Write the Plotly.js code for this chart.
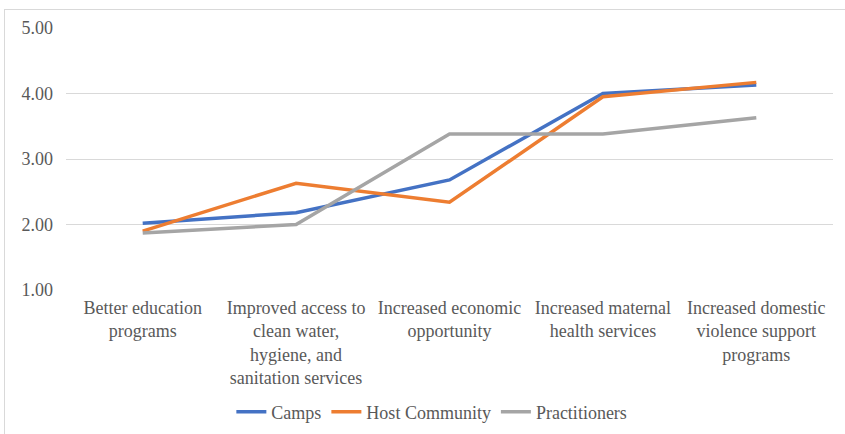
<!DOCTYPE html>
<html>
<head>
<meta charset="utf-8">
<script src="https://cdn.plot.ly/plotly-3.0.1.min.js"></script>
<style>
html,body{margin:0;padding:0;background:#fff;}
#wrap{position:relative;width:845px;height:434px;overflow:hidden;}
#chart{position:absolute;left:0;top:0;width:845px;height:434px;}
#frame{position:absolute;left:4px;top:9px;width:860px;height:460px;border:1px solid #d9d9d9;pointer-events:none;}
</style>
</head>
<body>
<div id="wrap"><div id="chart"></div><div id="frame"></div></div>
<script>
const categories = [
  "Better education<br>programs",
  "Improved access to<br>clean water,<br>hygiene, and<br>sanitation services",
  "Increased economic<br>opportunity",
  "Increased maternal<br>health services",
  "Increased domestic<br>violence support<br>programs"
];
const camps = [2.02, 2.18, 2.68, 4.00, 4.13];
const hostCommunity = [1.90, 2.63, 2.34, 3.95, 4.17];
const practitioners = [1.87, 2.00, 3.38, 3.38, 3.63];
const yTicks = [1, 2, 3, 4, 5];
const yTickLabels = ["1.00", "2.00", "3.00", "4.00", "5.00"];

const font = {family: "Liberation Serif, DejaVu Serif", size: 18, color: "#595959"};
function tr(name, y, color) {
  return {x: categories, y: y, name: name, type: "scatter", mode: "lines",
    line: {color: color, width: 3.5}};
}
const data = [
  tr("Camps", camps, "#4472C4"),
  tr("Host Community", hostCommunity, "#ED7D31"),
  tr("Practitioners", practitioners, "#A5A5A5")
];
const layout = {
  width: 845, height: 434,
  margin: {l: 66, r: 12, t: 28, b: 144, autoexpand: false},
  paper_bgcolor: "#fff", plot_bgcolor: "#fff",
  font: font,
  showlegend: true,
  legend: {orientation: "h", x: 0.477, xanchor: "center", y: -0.466, yanchor: "middle",
    font: font, tracegroupgap: 0},
  xaxis: {type: "category", range: [-0.5, 4.5], showgrid: false, zeroline: false, showline: false,
    ticks: "", tickfont: font, tickangle: 0, fixedrange: true, automargin: false,
    ticklabelstandoff: 5},
  yaxis: {range: [1, 5], tickvals: yTicks, ticktext: yTickLabels, showgrid: true,
    gridcolor: "#d9d9d9", gridwidth: 1, zeroline: false, showline: false, ticks: "",
    tickfont: font, ticklabelstandoff: 12, fixedrange: true, automargin: false}
};
Plotly.newPlot("chart", data, layout, {displayModeBar: false, staticPlot: true});
</script>
</body>
</html>
